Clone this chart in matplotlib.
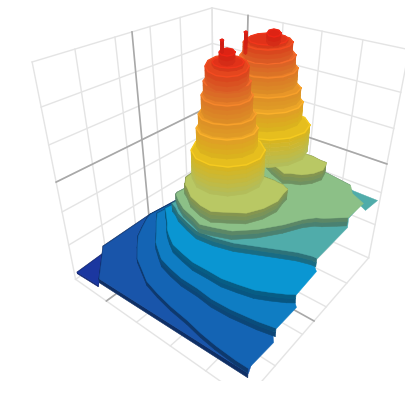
import numpy as np, matplotlib
matplotlib.use('Agg')
import matplotlib.pyplot as plt
from mpl_toolkits.mplot3d.art3d import Poly3DCollection

# axis ticks, in box units
x_ticks = [.227, .417, .614, .813]
y_ticks = [.22, .416, .615, .805]
z_ticks = [.195, .368, .512, .677, .832]
x_zero, y_zero, z_zero = .521, .22, .512

# colour stops of the height scale
color_z = [.04, .05, .11, .135, .19, .245, .30, .355, .41, .55, .638, .694, .77, .826, .886, .90, .94, .99]
color_rgb = [(27,55,160),(27,55,160),(25,85,170),(20,100,180),(15,125,195),(10,150,210),(80,172,170),
             (140,192,135),(185,200,100),(230,190,30),(235,165,40),(232,150,40),(230,125,40),(230,100,40),
             (228,70,30),(225,50,25),(222,35,20),(215,30,20)]

# terraces, low to high: cap height, height the wall drops to, outline (x, y in thousandths of the box)
low_z = [.05, .11, .135, .19, .245, .30, .355]
low_base = [.04, .085, .11, .145, .20, .255, .31]
low_outline = [
 [(996,18),(834,6),(990,160)],
 [(845,30),(527,17),(0,64),(403,625),(787,912),(978,988),(999,189)],
 [(551,45),(585,56),(651,92),(710,127),(769,186),(823,244),(863,319),(898,384),(920,471),(938,566),(950,667),(965,751),(974,831),(979,929),(978,987),(827,991),(782,955),(485,683),(0,113)],
 [(577,126),(624,169),(690,235),(737,279),(770,329),(802,380),(821,453),(835,529),(838,621),(847,704),(843,796),(826,914),(809,988),(674,989),(587,905),(1,193)],
 [(578,187),(606,220),(651,272),(687,306),(718,351),(749,403),(766,474),(780,546),(779,625),(780,700),(766,770),(749,840),(721,896),(688,953),(667,980),(507,973),(365,833),(77,251)],
 [(585,244),(586,245),(599,277),(625,321),(649,397),(667,467),(657,554),(632,644),(588,734),(546,820),(516,883),(498,943),(497,965),(238,963),(176,935),(51,930),(72,966),(-37,974),(-40,843),(-12,738),(114,278)],
 [(565,261),(580,266),(609,309),(641,370),(662,447),(681,500),(661,559),(631,634),(557,709),(463,775),(378,820),(334,856),(318,883),(274,931),(245,963),(108,965),(67,889),(11,851),(-15,713),(3,569),(152,306)],
]
low_open = [[], [4], [14,15], [12,13], [14,15], [12,13,14,15,16,17], [14,15,16]]
low_shade = [.68, .6, .62, .64, .64, .68, .72]

tier_z = [.55, .638, .694, .77, .826, .886, .90, .94]
tier_base = [.41, .55, .638, .694, .77, .826, .886, .90]

back_lobe = [(133,457),(162,508),(187,570),(199,598),(180,621),(158,668),(113,704),(58,723),(13,711),(-12,703),(-13,668),(-23,622),(-20,567),(-25,519),(4,488),(73,463)]
back_tiers = [
 [(-46,576),(38,598),(129,575),(203,515),(245,432),(244,345),(198,276),(116,244),(19,262),(-66,327),(-110,420),(-102,512)],
 [(-74,511),(0,530),(79,511),(145,457),(182,384),(181,308),(141,247),(69,220),(-16,236),(-90,292),(-128,373),(-122,454)],
 [(-93,482),(-27,499),(46,478),(107,428),(143,359),(144,289),(109,234),(45,211),(-32,228),(-99,282),(-137,357),(-134,431)],
 [(-129,435),(-59,456),(14,443),(72,398),(102,334),(97,266),(56,209),(-12,181),(-90,192),(-155,239),(-186,309),(-176,381)],
 [(-135,414),(-69,435),(0,423),(54,382),(82,323),(76,258),(37,205),(-28,179),(-101,187),(-162,230),(-191,296),(-180,364)],
 [(-124,399),(-63,419),(0,410),(49,375),(72,322),(65,263),(27,215),(-33,189),(-100,195),(-154,232),(-178,290),(-167,352)],
 [(-108,380),(-61,396),(-12,388),(27,359),(47,316),(42,271),(13,233),(-33,215),(-84,221),(-126,251),(-147,296),(-139,344)],
 [(-47,378),(-5,395),(24,388),(24,360),(-6,328),(-49,309),(-79,316),(-78,345)],
]
back_spike = [(191,345),(175,341),(183,355),(199,359)]

front_lobe = [(551,300),(555,300),(575,335),(614,391),(637,467),(642,530),(604,587),(559,651),(487,687),(406,703),(340,689),(300,685),(295,669),(283,649),(283,618),(279,601),(282,551),(273,460),(299,359),(357,278),(438,260),(512,268)]
front_tiers = [
 [(294,552),(369,579),(448,565),(512,516),(546,444),(543,365),(501,298),(428,261),(342,269),(270,322),(234,403),(244,488)],
 [(290,506),(348,526),(411,513),(463,471),(493,411),(493,348),(462,296),(406,270),(339,280),(281,324),(250,389),(254,457)],
 [(283,487),(338,507),(397,496),(446,457),(474,401),(473,341),(442,292),(389,267),(326,275),(272,316),(243,377),(247,440)],
 [(276,463),(332,486),(390,480),(435,448),(458,397),(452,339),(417,289),(362,261),(300,263),(249,297),(226,353),(236,414)],
 [(272,447),(317,464),(366,455),(406,424),(428,378),(427,329),(402,289),(358,269),(307,276),(264,308),(240,358),(244,409)],
 [(271,434),(331,463),(388,466),(428,441),(444,397),(430,342),(389,290),(329,255),(267,248),(221,274),(205,323),(225,383)],
 [(279,412),(313,428),(349,425),(377,405),(391,374),(386,339),(364,308),(330,291),(292,292),(262,312),(248,346),(255,382)],
 [(300,380),(335,395),(361,386),(364,359),(343,329),(308,313),(281,322),(278,350)],
]
front_spike = [(343,337),(329,334),(335,347),(350,351)]
lobe_z, lobe_base, spike_z = .41, .355, .99
back_spike_base, front_spike_base = .90, .94

GRID = '#e4e4e4'
ZERO = '#a8a8a8'
TIER_SHADE, LOBE_SHADE = .95, .75

fig = plt.figure(figsize=(4.06, 4.0), dpi=100)
ax = fig.add_axes([20.75/406, (400-381.14)/400, 400.95/406, 400.95/400], projection='3d')
ax.computed_zorder = False
ax.set_xlim(0, 1); ax.set_ylim(0, 1); ax.set_zlim(0, 1)
ax.view_init(31.7977, 38.6426, -0.3104)
ax.set_proj_type('persp', focal_length=0.2394)
ax.set_box_aspect((1, 0.9924, 1.047))
ax.set_axis_off()

def wall_x(v, c, lw, zo):
    ax.plot([v, v], [0, 0], [0, 1], color=c, lw=lw, zorder=zo)
    ax.plot([v, v], [0, 1], [0, 0], color=c, lw=lw, zorder=zo)
def wall_y(v, c, lw, zo):
    ax.plot([0, 0], [v, v], [0, 1], color=c, lw=lw, zorder=zo)
    ax.plot([0, 1], [v, v], [0, 0], color=c, lw=lw, zorder=zo)
def wall_z(v, c, lw, zo):
    ax.plot([0, 1], [0, 0], [v, v], color=c, lw=lw, zorder=zo)
    ax.plot([0, 0], [0, 1], [v, v], color=c, lw=lw, zorder=zo)

for v in x_ticks + [0, 1]:
    wall_x(v, GRID, 1, 1)
for v in y_ticks + [0, 1]:
    wall_y(v, GRID, 1, 1)
for v in z_ticks + [1]:
    wall_z(v, GRID, 1, 1)
wall_x(x_zero, ZERO, 1.2, 2)
wall_y(y_zero, ZERO, 1.2, 2)
wall_z(z_zero, ZERO, 1.2, 2)

cz = np.array(color_z)
crgb = np.array(color_rgb) / 255
def col(z):
    return np.array([np.interp(z, cz, crgb[:, i]) for i in range(3)] + [1.])

zo = 10
def terrace(z, zb, outline, shade, open_edges=()):
    global zo
    xy = [(a/1000, b/1000) for a, b in outline]
    n = max(1, int(round((z - zb) / .02)))
    steps = np.linspace(zb, z, n + 1)
    quads, cols = [], []
    for i in range(len(xy)):
        if i in open_edges:
            continue
        p, q = xy[i], xy[(i + 1) % len(xy)]
        for k in range(n):
            quads.append([(p[0], p[1], steps[k]), (q[0], q[1], steps[k]), (q[0], q[1], steps[k+1]), (p[0], p[1], steps[k+1])])
            c = col((steps[k] + steps[k+1]) / 2)
            c[:3] *= shade
            cols.append(c)
    ax.add_collection3d(Poly3DCollection(quads, facecolors=cols, edgecolors=cols, linewidths=.4, shade=False, zorder=zo))
    zo += 1
    cc = col(z)
    ax.add_collection3d(Poly3DCollection([[(a, b, z) for a, b in xy]], facecolors=[cc], edgecolors=[cc], linewidths=.3, shade=False, zorder=zo))
    zo += 1
    if z >= .55:
        r = np.array(cc)
        r[:3] = np.minimum(1, r[:3] * 1.07)
        ax.plot([a for a, b in xy] + [xy[0][0]], [b for a, b in xy] + [xy[0][1]], [z] * (len(xy) + 1), color=r, lw=1, zorder=zo)
        zo += 1

for z, zb, outline, shade, op in zip(low_z, low_base, low_outline, low_shade, low_open):
    terrace(z, zb, outline, shade, op)

terrace(lobe_z, lobe_base, back_lobe, LOBE_SHADE)
for z, zb, outline in zip(tier_z, tier_base, back_tiers):
    terrace(z, zb, outline, TIER_SHADE)
terrace(spike_z, back_spike_base, back_spike, TIER_SHADE)

terrace(lobe_z, lobe_base, front_lobe, LOBE_SHADE)
for z, zb, outline in zip(tier_z, tier_base, front_tiers):
    terrace(z, zb, outline, TIER_SHADE)
terrace(spike_z, front_spike_base, front_spike, TIER_SHADE)

fig.savefig('out.png', dpi=100)
